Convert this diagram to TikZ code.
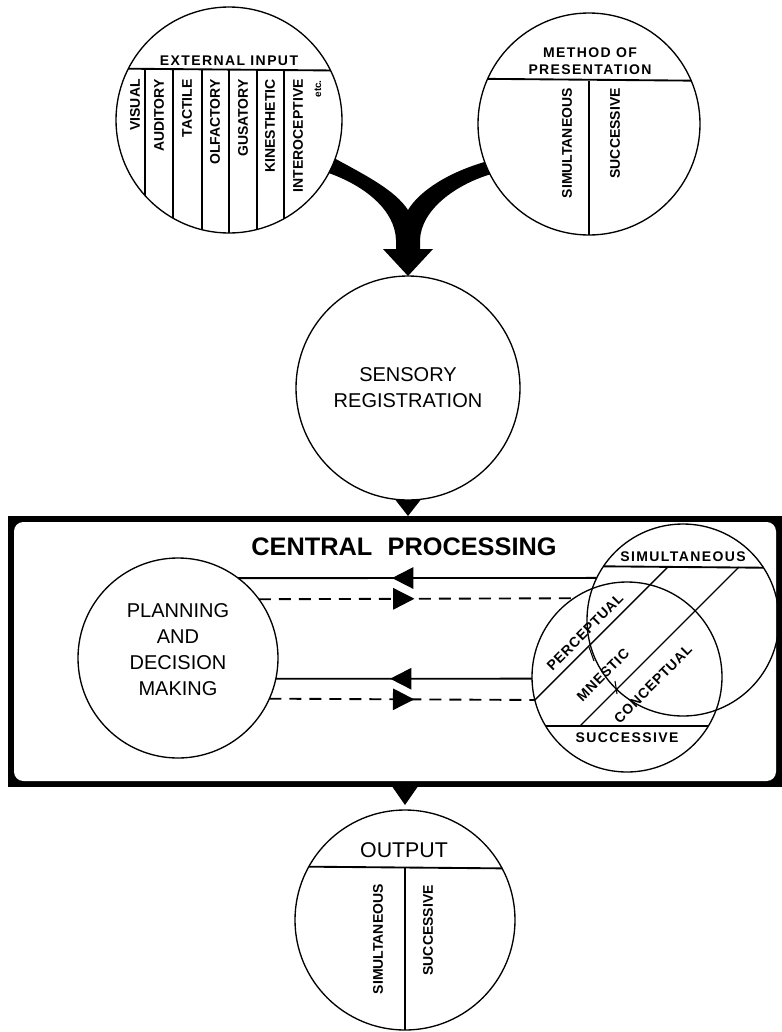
\documentclass[tikz,border=0pt]{standalone}
\usepackage{fontspec}
\setmainfont{Liberation Sans}
\usepackage{tikz}
\usetikzlibrary{arrows.meta,calc,decorations.markings}
\newcommand{\track}{\addfontfeature{LetterSpace=10}}
\newcommand{\tracklight}{\addfontfeature{LetterSpace=5}}

\begin{document}
\begin{tikzpicture}[x=0.75pt, y=-0.75pt,
    ring/.style={circle, draw, line width=1pt, inner sep=0pt, outer sep=0pt},
    divider/.style={line width=1.4pt},
    collabel/.style={rotate=90, anchor=east, inner sep=0pt, font=\fontsize{10.5}{12}\selectfont\bfseries},
    headlabel/.style={align=center, inner sep=0pt, font=\fontsize{10.5}{12.75}\selectfont\bfseries\track},
    bigtext/.style={align=center, font=\fontsize{15}{19.5}\selectfont},
    zone/.style={rotate=45, inner sep=0pt, font=\fontsize{10.5}{12}\selectfont\bfseries\tracklight},
    flow/.style={line width=1.4pt},
    back/.style={line width=1.4pt, dash pattern=on 9pt off 6pt},
    arrowmid/.style={postaction={decorate}, decoration={markings, mark=at position #1 with {\arrow{Triangle[length=16pt,width=16pt]}}}}
]
\useasboundingbox (0,0) rectangle (782,1032);

\node[ring, minimum size=169.5pt] (extin) at (229,120) {};
\draw[divider] (extin.153.17) -- (extin.26.83);
\begin{scope}
  \clip (extin.center) circle (113);
  \foreach \x in {145,173,202,229,257,284}
    \draw[divider] (\x,69) -- (\x,240);
\end{scope}
\node[headlabel] (extinhead) at (229,60.5) {EXTERNAL INPUT};
\foreach \x/\t in {135/VISUAL,159/AUDITORY,187/TACTILE,215/OLFACTORY,243/GUSATORY,270/KINESTHETIC,298/INTEROCEPTIVE}
  \node[collabel] (col\x) at (\x,79) {\t};
\node[collabel, font=\fontsize{7.5}{9}\selectfont\bfseries] (etc) at (318,80) {etc.};

\node[ring, minimum size=166.5pt] (method) at (589,124) {};
\draw[divider] (method.156.65) -- (method.23.35);
\draw[divider] (method.south) -- (method.south |- method.23.35);
\node[headlabel] (methodhead) at (590,61) {METHOD OF\\PRESENTATION};
\node[collabel] (msim) at (567,88) {SIMULTANEOUS};
\node[collabel] (msuc) at (615,88) {SUCCESSIVE};

\node[ring, minimum size=168pt, bigtext] (sensory) at (408,388) {SENSORY\\REGISTRATION};

\fill (extin.-20) .. controls (365,175) and (395,190) .. (408,210)
  .. controls (420,190) and (450,172) .. (method.200)
  -- (method.207) .. controls (455,185) and (421,210) .. (420,240)
  -- (420,249) -- (433,249) -- (sensory.north) -- (383,249) -- (396,249) -- (396,240)
  .. controls (395,210) and (365,186) .. (extin.-28) -- cycle;

\node[fill=black, minimum width=580.5pt, minimum height=203.25pt, inner sep=0pt, outer sep=0pt] (cpbox) at (395,651.5) {};
\fill[white, rounded corners=7pt] ($(cpbox.north west)+(6,6)$) rectangle ($(cpbox.south east)+(-6,-6)$);
\fill ($(sensory.south)+(-12.5,0)$) -- ++(25,0) -- (sensory.south |- cpbox.north) -- cycle;

\node[font=\fontsize{19}{22}\selectfont\bfseries] (cptitle) at (404,547) {CENTRAL\hspace{0.6em}PROCESSING};

\node[ring, minimum size=150pt] (plan) at (178,658) {};
\node[bigtext] (plantext) at (178,650) {PLANNING\\AND\\DECISION\\MAKING};

\node[ring, minimum size=144pt] (simul) at (683,620) {};
\node[ring, minimum size=142.5pt] (succ) at (627,677) {};
\draw[divider] (simul.146.5) -- (simul.33.5);
\draw[divider] (succ.211.05) -- (succ.-31.05);
\draw[line width=1pt] (succ.194.04) -- ++(133,-133);
\draw[line width=1pt] (580,726) -- ++(159,-159);
\draw[line width=0.8pt] (589,647) -- (594,661);
\draw[line width=0.8pt] (615,681) -- (617,694);
\node[headlabel] (psim) at (683,557) {SIMULTANEOUS};
\node[headlabel] (psuc) at (627,738) {SUCCESSIVE};
\node[zone] (perc) at (585,632) {PERCEPTUAL};
\node[zone] (mnes) at (603,675) {MNESTIC};
\node[zone] (conc) at (653,684) {CONCEPTUAL};

\draw[flow, arrowmid=0.571] (simul.154.06) -- (plan.53.13);
\draw[back, arrowmid=0.494] (plan.36.16) -- (succ.124.8);
\draw[flow, arrowmid=0.554] (succ.181.81) -- (plan.-12.71);
\draw[back, arrowmid=0.546] (plan.-24.83) -- (succ.194.04);

\node[ring, minimum size=165pt] (output) at (405,920) {};
\draw[divider] (output.151.8) -- (output.28.2);
\draw[divider] (output.south) -- (output.south |- output.28.2);
\node[font=\fontsize{16}{18}\selectfont] (outhead) at (404,850) {OUTPUT};
\node[collabel] (osim) at (378,884) {SIMULTANEOUS};
\node[collabel] (osuc) at (428,885) {SUCCESSIVE};
\fill ($(output.north)+(-12.5,-23)$) -- ++(25,0) -- ($(output.north)+(0,-5)$) -- cycle;

\end{tikzpicture}
\end{document}
